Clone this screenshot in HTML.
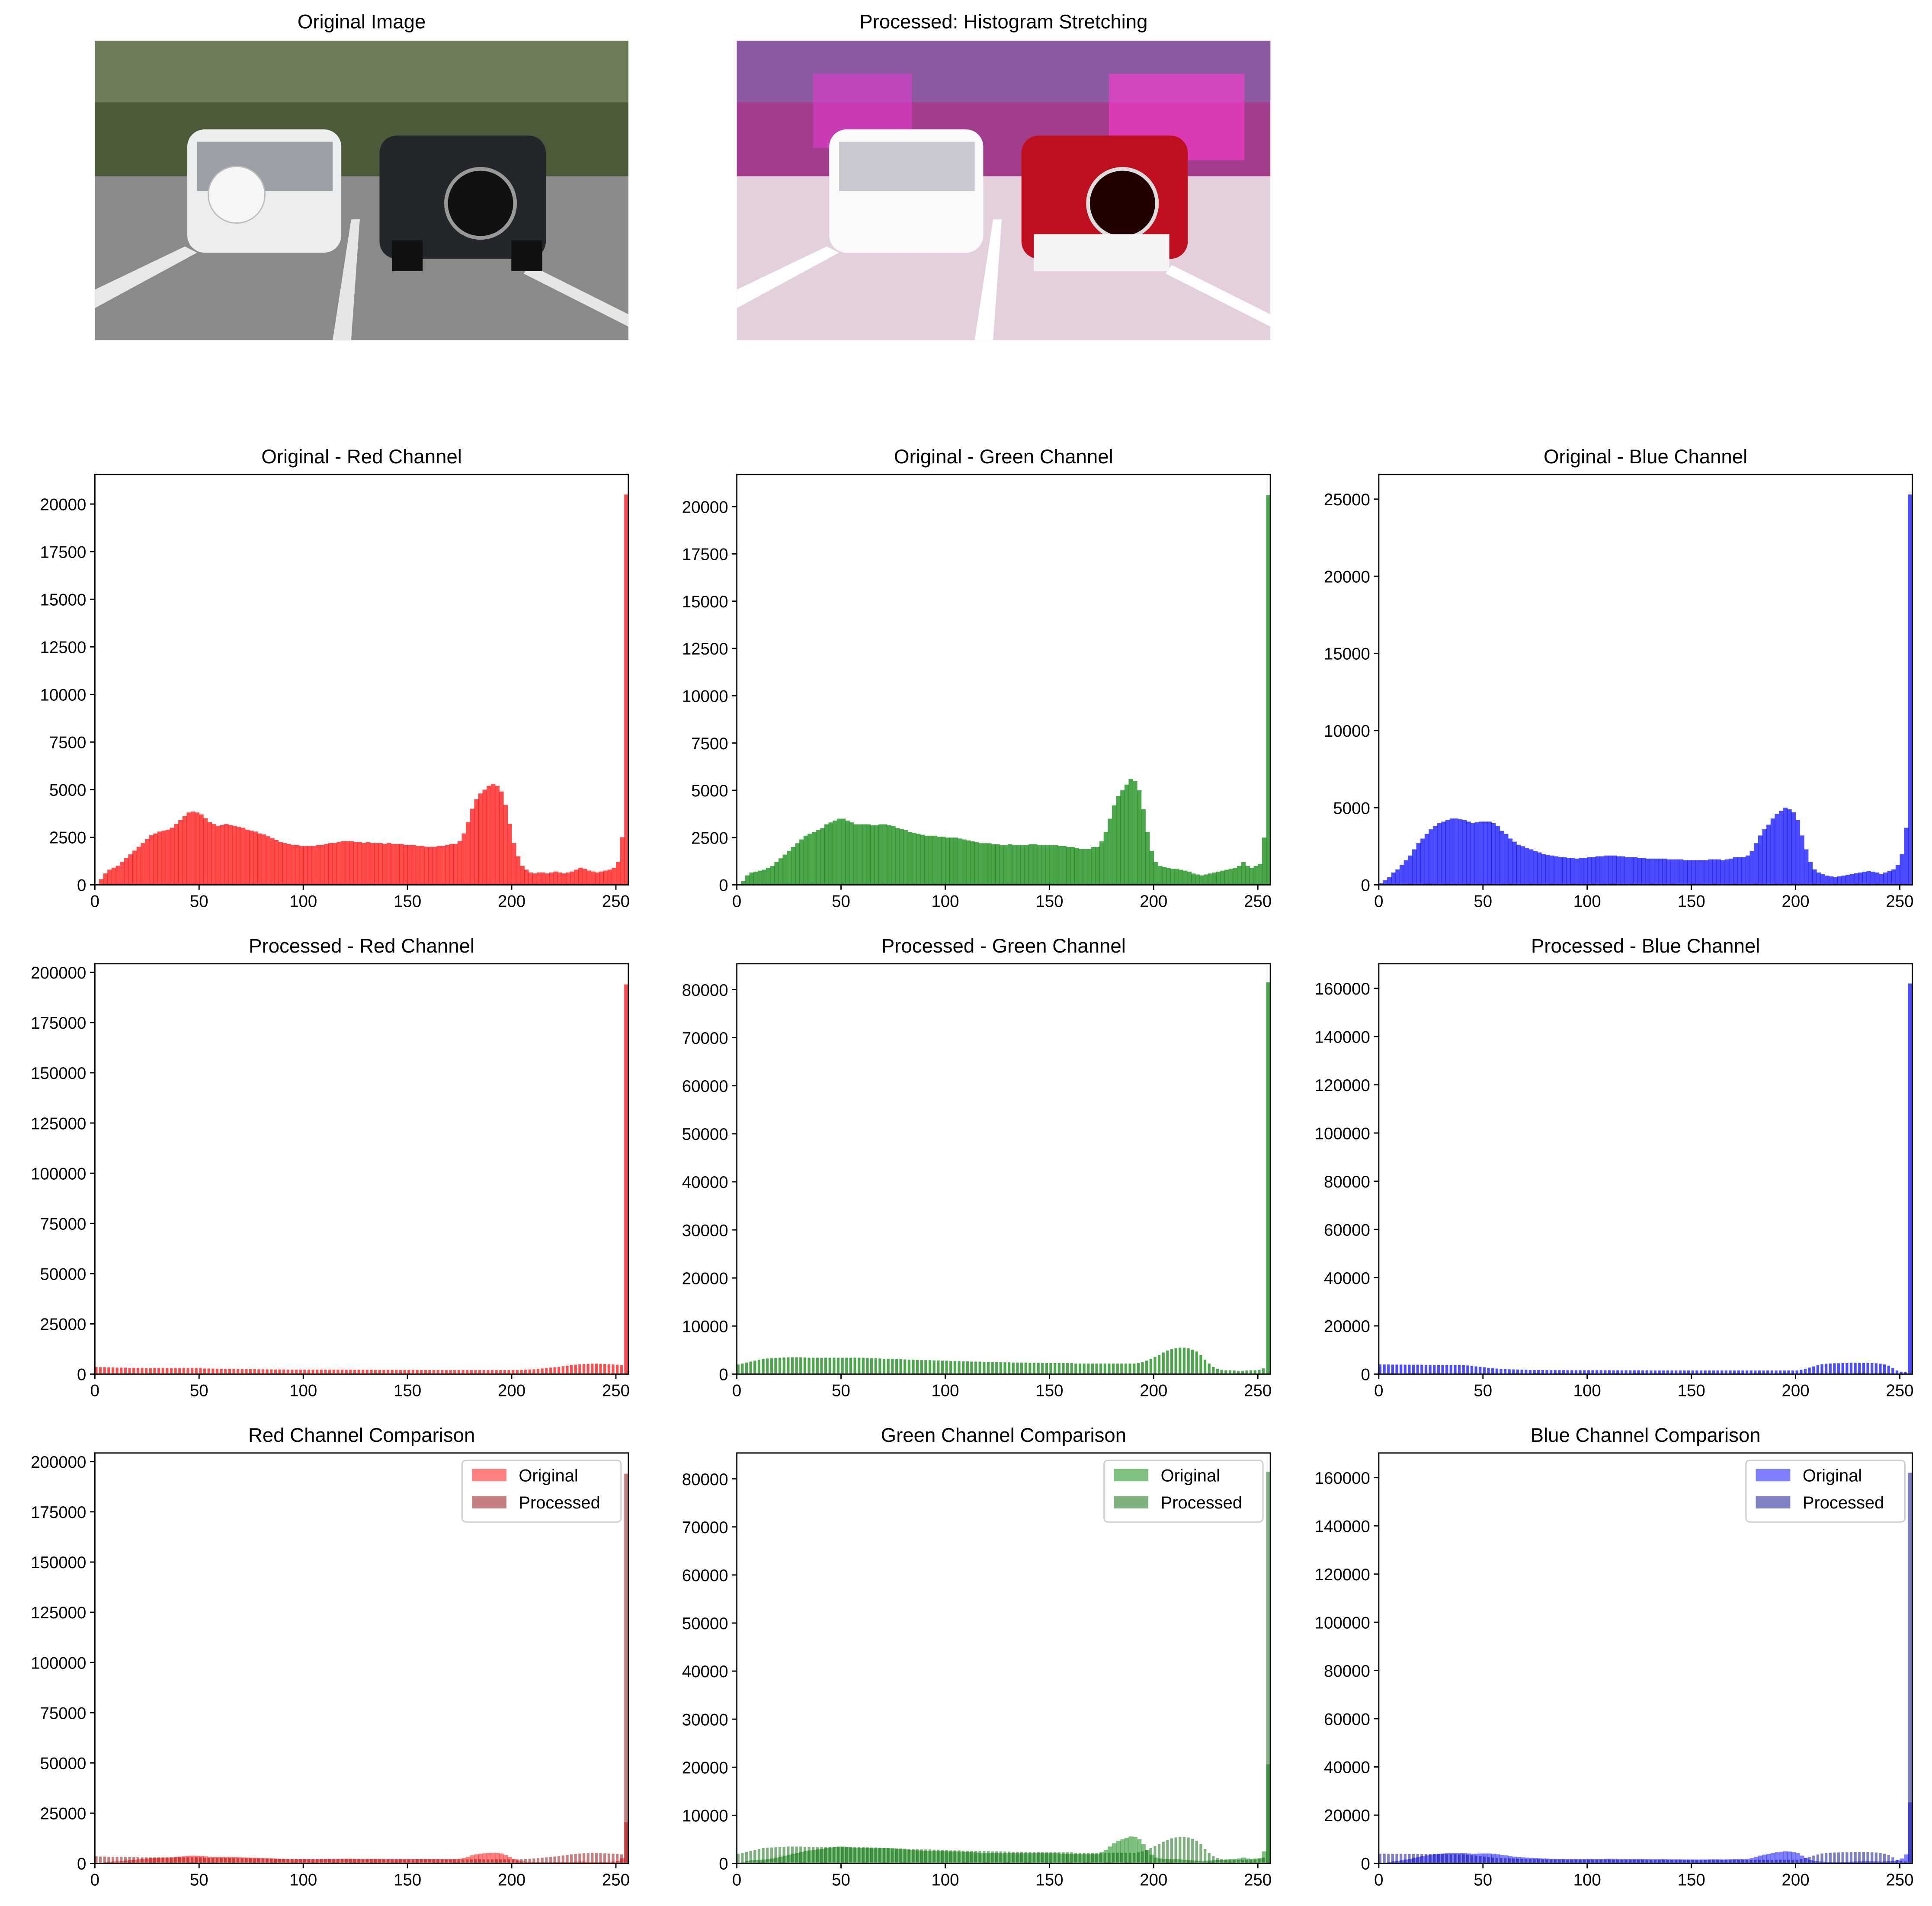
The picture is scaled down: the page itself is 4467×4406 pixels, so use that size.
<!DOCTYPE html>
<html><head><meta charset="utf-8"><style>
html,body{margin:0;padding:0;background:#fff;}
svg{display:block;font-family:"Liberation Sans","DejaVu Sans",sans-serif;}
</style></head><body>
<svg id="fig" width="4467" height="4406" viewBox="0 0 1568 1546.6" preserveAspectRatio="none" xmlns="http://www.w3.org/2000/svg">
<rect width="1568" height="1547" fill="#fff"/>
<g>
<text x="293.5" y="23" font-size="16" text-anchor="middle">Original Image</text>
<rect x="77" y="33" width="433" height="243" fill="#8a8a88"/>
<rect x="77" y="33" width="433" height="110" fill="#4c5a3a"/>
<rect x="77" y="33" width="433" height="50" fill="#6f7d5a"/>
<polygon points="77,235 150,200 160,205 77,250" fill="#e8e8e6"/>
<polygon points="270,276 285,178 292,178 285,276" fill="#e6e6e4"/>
<polygon points="430,215 510,255 510,265 425,222" fill="#e6e6e4"/>
<rect x="152" y="105" width="125" height="100" rx="14" fill="#ecedee"/>
<rect x="160" y="115" width="110" height="40" fill="#9aa0a6"/>
<circle cx="192" cy="158" r="23" fill="#f6f6f6" stroke="#bbb"/>
<rect x="308" y="110" width="135" height="100" rx="14" fill="#23272b"/>
<circle cx="390" cy="165" r="28" fill="#111" stroke="#999" stroke-width="3"/>
<rect x="318" y="195" width="25" height="25" fill="#111"/>
<rect x="415" y="195" width="25" height="25" fill="#111"/>
</g>
<g>
<text x="814.5" y="23" font-size="16" text-anchor="middle">Processed: Histogram Stretching</text>
<rect x="598" y="33" width="433" height="243" fill="#e3d0dc"/>
<rect x="598" y="33" width="433" height="110" fill="#a23c8c"/>
<rect x="598" y="33" width="433" height="50" fill="#8c5aa0"/>
<rect x="660" y="60" width="80" height="60" fill="#e23ad0" opacity="0.6"/>
<rect x="900" y="60" width="110" height="70" fill="#ff3ad0" opacity="0.6"/>
<polygon points="598,235 671,200 681,205 598,250" fill="#ffffff"/>
<polygon points="791,276 806,178 813,178 806,276" fill="#ffffff"/>
<polygon points="951,215 1031,255 1031,265 946,222" fill="#ffffff"/>
<rect x="673" y="105" width="125" height="100" rx="14" fill="#fafafa"/>
<rect x="681" y="115" width="110" height="40" fill="#c8c8d0"/>
<rect x="829" y="110" width="135" height="100" rx="14" fill="#c01020"/>
<circle cx="911" cy="165" r="28" fill="#200" stroke="#ddd" stroke-width="3"/>
<rect x="839" y="190" width="110" height="30" fill="#f4f4f4"/>
</g>
<g id="charts"></g>
</svg>
<script>
const origRed=[50,300,600,800,900,1000,1200,1400,1600,1800,2000,2200,2400,2600,2700,2800,2850,2900,3000,3200,3400,3600,3800,3850,3800,3700,3500,3300,3200,3100,3150,3200,3150,3100,3050,3000,2900,2850,2800,2700,2650,2550,2450,2350,2250,2200,2150,2100,2100,2050,2050,2050,2050,2100,2100,2150,2200,2200,2250,2300,2300,2300,2250,2250,2200,2250,2200,2200,2200,2150,2200,2150,2150,2150,2100,2100,2100,2050,2050,2000,2000,2000,2050,2050,2100,2150,2150,2300,2700,3300,4000,4500,4800,5000,5200,5300,5200,4900,4200,3200,2200,1500,1000,800,650,600,650,650,600,650,700,650,600,650,700,800,900,850,750,700,650,700,750,800,900,1200,2500,20500];
const origGreen=[50,200,500,650,700,750,800,900,1000,1200,1400,1600,1800,2000,2200,2400,2600,2700,2800,2900,3000,3200,3300,3400,3500,3500,3400,3300,3200,3200,3200,3200,3150,3150,3200,3200,3150,3100,3000,2950,2900,2800,2750,2700,2650,2600,2600,2600,2550,2550,2500,2500,2500,2450,2400,2350,2300,2250,2200,2200,2200,2150,2150,2100,2100,2150,2100,2100,2100,2100,2150,2150,2100,2100,2100,2100,2100,2050,2050,2000,2000,1950,1900,1900,1900,2000,2000,2300,2800,3500,4200,4700,5000,5300,5600,5500,5000,4000,2800,1800,1200,1000,950,900,850,850,800,750,700,600,550,500,550,600,650,700,750,800,850,900,1000,1200,1000,900,1000,1100,2500,20600];
const origBlue=[100,300,500,800,1000,1300,1600,1900,2300,2700,3000,3300,3600,3800,4000,4100,4200,4300,4300,4250,4200,4100,4000,4050,4100,4100,4100,4000,3800,3500,3300,3000,2800,2600,2500,2400,2300,2200,2100,2000,1950,1900,1850,1800,1800,1750,1750,1700,1750,1750,1800,1800,1850,1850,1900,1900,1900,1850,1850,1800,1800,1800,1750,1750,1700,1700,1700,1700,1700,1650,1650,1650,1650,1600,1600,1600,1600,1600,1600,1650,1650,1650,1600,1650,1700,1800,1800,1800,1900,2200,2700,3200,3600,3900,4300,4600,4800,5000,4900,4700,4200,3200,2300,1500,1000,800,700,600,550,500,550,600,650,700,750,800,850,900,850,800,700,800,900,1000,1300,2000,3700,25300];
const procRed=[3500,3400,3400,3300,3300,3200,3200,3200,3100,3100,3100,3000,3000,3000,3000,3000,3000,3000,3000,3000,3000,3000,3000,3000,3000,3000,2800,2800,2750,2700,2700,2650,2600,2600,2550,2500,2500,2450,2450,2400,2400,2350,2350,2300,2300,2300,2250,2250,2250,2200,2200,2200,2200,2200,2200,2200,2200,2200,2200,2200,2200,2200,2150,2150,2150,2150,2150,2100,2100,2100,2100,2100,2100,2100,2100,2100,2100,2050,2050,2050,2050,2050,2050,2000,2000,2000,2000,2000,2000,2000,2000,2000,2000,2000,2000,2000,2000,2000,2000,2000,2000,2000,2100,2200,2300,2400,2600,2800,3000,3200,3400,3600,3900,4200,4500,4700,4900,5000,5100,5200,5200,5100,5000,4900,4800,4700,4500,194000];
const procGreen=[2000,2200,2400,2600,2800,3000,3200,3250,3300,3350,3400,3450,3500,3500,3500,3500,3450,3400,3400,3400,3400,3400,3400,3400,3400,3400,3400,3400,3400,3400,3400,3350,3300,3300,3250,3200,3200,3150,3100,3100,3050,3000,3000,2950,2900,2900,2900,2850,2850,2800,2800,2700,2700,2700,2650,2650,2600,2600,2600,2550,2550,2500,2500,2500,2450,2450,2400,2400,2400,2400,2350,2350,2350,2350,2300,2300,2300,2300,2300,2300,2300,2200,2200,2200,2200,2200,2200,2200,2200,2200,2200,2200,2200,2200,2200,2200,2300,2500,2800,3200,3600,4000,4500,4900,5200,5400,5500,5500,5400,5100,4700,4000,3000,2200,1500,1100,900,800,800,750,700,700,750,800,800,900,1200,81500];
const procBlue=[4000,4000,4000,3950,3950,3950,3900,3900,3900,3900,3900,3850,3850,3850,3850,3800,3800,3800,3800,3800,3800,3600,3400,3200,3000,2800,2600,2400,2300,2200,2100,2000,1950,1900,1850,1800,1700,1700,1700,1700,1650,1650,1650,1650,1650,1600,1600,1600,1600,1600,1600,1600,1600,1600,1600,1600,1550,1550,1550,1550,1550,1550,1550,1550,1550,1500,1500,1500,1500,1500,1500,1500,1500,1500,1500,1500,1500,1500,1500,1500,1500,1500,1500,1500,1500,1500,1500,1500,1500,1500,1500,1500,1500,1500,1500,1500,1500,1500,1500,1500,1500,1800,2200,2700,3200,3700,4100,4300,4400,4500,4500,4600,4600,4700,4700,4700,4700,4700,4600,4500,4300,4000,3500,2500,1500,1000,800,162000];
const xTicks=[0,50,100,150,200,250];
const NS="http://www.w3.org/2000/svg";
const G=document.getElementById('charts');
function mk(tag,attrs,parent){const e=document.createElementNS(NS,tag);for(const k in attrs)e.setAttribute(k,attrs[k]);(parent||G).appendChild(e);return e;}
const cols=[77,598,1119], W=433;
const rowsTop=[385,782,1179], H=333;
function axes(c,r,title,ymax,ystep,series,legend){
  const x0=cols[c], y0=rowsTop[r], g=mk('g',{});
  
  
  const sx=v=>x0+v/256*W, sy=v=>y0+H-v/ymax*H;
  series.forEach(s=>{
    const sg=mk('g',{fill:s.color,'fill-opacity':s.alpha},g);
    
    
    s.data.forEach((v,i)=>{
      const bw=s.comb&&i<127?1.3:2;
      const b=mk('rect',{x:sx(i*2),y:sy(v),width:sx(i*2+bw)-sx(i*2)+(s.comb?0:0.3),height:Math.max(0,y0+H-sy(v))},sg);
      
      
    });
  });
  const fr=mk('rect',{x:x0,y:y0,width:W,height:H,fill:'none',stroke:'#000','stroke-width':1},g);
  
  
  xTicks.forEach(t=>{
    mk('line',{x1:sx(t),x2:sx(t),y1:y0+H,y2:y0+H+4,stroke:'#000'},g);
    const tx=mk('text',{x:sx(t),y:y0+H+18,'font-size':13.5,'text-anchor':'middle'},g);tx.textContent=t;
    
    
  });
  for(let t=0;t<=ymax;t+=ystep){
    mk('line',{x1:x0-4,x2:x0,y1:sy(t),y2:sy(t),stroke:'#000'},g);
    const ty=mk('text',{x:x0-7,y:sy(t)+5,'font-size':13.5,'text-anchor':'end'},g);ty.textContent=t;
    
    
  }
  const tt=mk('text',{x:x0+W/2,y:y0-9,'font-size':16,'text-anchor':'middle'},g);tt.textContent=title;
  
  
  if(legend){
    const lg=mk('g',{},g);
    
    
    const lx=x0+W-135, ly=y0+6;
    mk('rect',{x:lx,y:ly,width:129,height:50,rx:3,fill:'#fff','fill-opacity':0.8,stroke:'#ccc'},lg);
    series.forEach((s,k)=>{
      const e=mk('g',{},lg);
      
      
      mk('rect',{x:lx+8,y:ly+7+k*22,width:28,height:10,fill:s.color,'fill-opacity':s.alpha},e);
      const t=mk('text',{x:lx+46,y:ly+17+k*22,'font-size':14},e);t.textContent=s.label;
    });
  }
}
axes(0,0,'Original - Red Channel',21553,2500,[{name:'red-hist',data:origRed,color:'#ff0000',alpha:0.7}]);
axes(1,0,'Original - Green Channel',21700,2500,[{name:'green-hist',data:origGreen,color:'#008000',alpha:0.7}]);
axes(2,0,'Original - Blue Channel',26597,5000,[{name:'blue-hist',data:origBlue,color:'#0000ff',alpha:0.7}]);
axes(0,1,'Processed - Red Channel',204300,25000,[{name:'red-hist',data:procRed,color:'#ff0000',alpha:0.7,comb:true}]);
axes(1,1,'Processed - Green Channel',85380,10000,[{name:'green-hist',data:procGreen,color:'#008000',alpha:0.7,comb:true}]);
axes(2,1,'Processed - Blue Channel',170220,20000,[{name:'blue-hist',data:procBlue,color:'#0000ff',alpha:0.7,comb:true}]);
axes(0,2,'Red Channel Comparison',204300,25000,[{name:'original-series',label:'Original',data:origRed,color:'#ff0000',alpha:0.5},{name:'processed-series',label:'Processed',data:procRed,color:'#8b0000',alpha:0.5,comb:true}],true);
axes(1,2,'Green Channel Comparison',85380,10000,[{name:'original-series',label:'Original',data:origGreen,color:'#008000',alpha:0.5},{name:'processed-series',label:'Processed',data:procGreen,color:'#006400',alpha:0.5,comb:true}],true);
axes(2,2,'Blue Channel Comparison',170220,20000,[{name:'original-series',label:'Original',data:origBlue,color:'#0000ff',alpha:0.5},{name:'processed-series',label:'Processed',data:procBlue,color:'#00008b',alpha:0.5,comb:true}],true);
</script>
</body></html>
